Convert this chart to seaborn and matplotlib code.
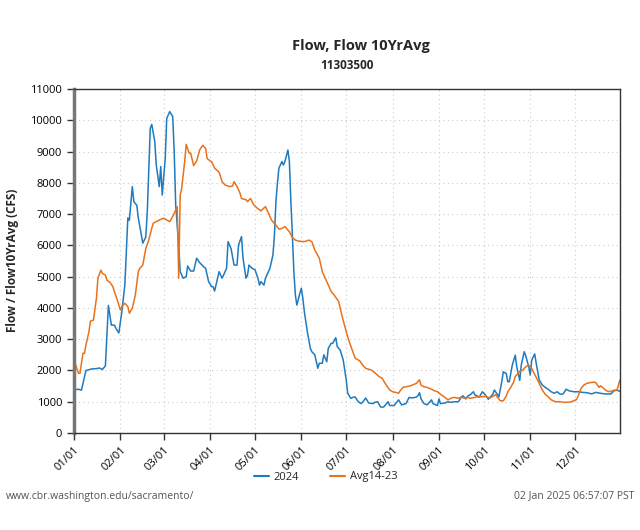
import pandas as pd
import numpy as np
import matplotlib
matplotlib.use("Agg")
import matplotlib.pyplot as plt
import matplotlib.dates as mdates
import seaborn as sns

# ---- data, day of year from 01/01/2024 ----
flow_days = [0, 3, 5, 8, 12, 15, 17, 19, 21, 23, 25, 27, 28, 30, 32, 34, 36, 37, 39, 40,
             42, 43, 46, 48, 49, 51, 52, 54, 55, 57, 58, 59, 61, 62, 64, 66, 67, 68, 70, 71,
             73, 75, 76, 78, 80, 82, 84, 87, 88, 90, 92, 93, 94, 96, 97, 99, 100, 102, 103, 105,
             107, 109, 110, 112, 113, 115, 116, 117, 119, 121, 123, 124, 125, 127, 128, 130, 131, 133, 134, 135,
             136, 137, 139, 140, 141, 143, 144, 145, 146, 147, 148, 149, 151, 152, 153, 154, 156, 158, 159, 161,
             163, 164, 166, 167, 169, 170, 172, 173, 175, 176, 178, 180, 182, 183, 185, 187, 188, 190, 192, 194,
             195, 197, 200, 201, 203, 205, 207, 210, 211, 214, 215, 217, 219, 222, 224, 226, 229, 230, 231, 232,
             234, 236, 238, 239, 240, 243, 244, 245, 248, 250, 252, 254, 257, 259, 260, 262, 263, 265, 267, 268,
             271, 273, 275, 277, 280, 281, 283, 284, 286, 287, 289, 290, 291, 293, 295, 296, 298, 299, 301, 302,
             304, 305, 306, 308, 309, 311, 313, 315, 317, 319, 321, 323, 325, 327, 329, 331, 334, 337, 340, 343,
             346, 349, 352, 355, 359, 361, 363, 365]
flow_cfs = [1380, 1400, 1370, 2000, 2050, 2060, 2080, 2030, 2150, 4080, 3450, 3450, 3350, 3200, 3880, 4730, 6880, 6800, 7880, 7400,
            7280, 6880, 6070, 6270, 7070, 9750, 9870, 9320, 8570, 7880, 8520, 7610, 8780, 10060, 10280, 10120, 9000, 7290, 6010, 5160,
            4950, 5000, 5340, 5180, 5180, 5590, 5450, 5300, 5270, 4840, 4680, 4680, 4540, 4950, 5160, 4950, 5050, 5270, 6120, 5900,
            5370, 5370, 6010, 6280, 5590, 4950, 5050, 5370, 5270, 5220, 4950, 4730, 4840, 4730, 4950, 5160, 5270, 5690, 6330, 7400,
            7990, 8470, 8680, 8570, 8680, 9050, 8680, 7400, 6330, 5160, 4410, 4090, 4470, 4630, 4310, 3880, 3240, 2710, 2600, 2500,
            2070, 2230, 2230, 2500, 2280, 2710, 2870, 2870, 3050, 2760, 2650, 2330, 1700, 1270, 1110, 1150, 1150, 1000, 940, 1050,
            1120, 960, 940, 980, 1000, 830, 830, 1000, 880, 880, 940, 1060, 900, 940, 1140, 1120, 1150, 1200, 1290, 1090,
            940, 900, 1000, 1060, 940, 880, 1090, 940, 960, 1000, 980, 1000, 1000, 1150, 1190, 1090, 1170, 1230, 1320, 1220,
            1150, 1320, 1220, 1080, 1240, 1375, 1240, 1150, 1640, 1960, 1900, 1640, 1640, 2170, 2490, 2120, 1680, 2170, 2600, 2470,
            2120, 1855, 2330, 2530, 2230, 1700, 1540, 1460, 1400, 1320, 1270, 1320, 1240, 1250, 1400, 1350, 1320, 1320, 1300, 1290,
            1250, 1300, 1270, 1250, 1250, 1350, 1370, 1330]

avg_days = [0, 1, 3, 4, 6, 7, 8, 10, 11, 13, 15, 16, 18, 19, 21, 22, 24, 26, 27, 29,
            31, 32, 34, 36, 37, 39, 41, 43, 44, 46, 47, 48, 50, 52, 53, 55, 57, 60, 62, 64,
            66, 68, 69, 70, 71, 72, 74, 75, 77, 78, 80, 82, 84, 86, 88, 89, 91, 92, 94, 97,
            99, 101, 104, 106, 107, 109, 111, 112, 115, 116, 118, 120, 122, 125, 126, 128, 130, 132, 135, 137,
            139, 141, 144, 146, 148, 150, 153, 155, 157, 159, 161, 164, 166, 169, 172, 174, 177, 179, 182, 184,
            186, 188, 191, 193, 195, 197, 199, 202, 204, 206, 208, 211, 213, 215, 217, 218, 220, 222, 224, 226,
            229, 230, 231, 232, 234, 236, 239, 241, 243, 245, 248, 250, 252, 254, 257, 259, 261, 263, 265, 268,
            271, 273, 275, 278, 280, 282, 283, 285, 287, 289, 290, 292, 294, 295, 297, 298, 300, 302, 304, 305,
            306, 307, 309, 311, 313, 315, 317, 319, 322, 325, 328, 332, 334, 336, 337, 339, 341, 343, 345, 348,
            349, 351, 352, 354, 356, 358, 361, 363, 364, 365]
avg_cfs = [2175, 2190, 1910, 1910, 2550, 2550, 2815, 3240, 3580, 3610, 4310, 4950, 5210, 5100, 5050, 4890, 4820, 4680, 4520, 4250,
           3935, 4040, 4150, 4040, 3830, 3990, 4410, 5160, 5270, 5370, 5640, 5900, 6170, 6550, 6710, 6760, 6810, 6870, 6810, 6760,
           6920, 7130, 7240, 4950, 7610, 7820, 8680, 9230, 8950, 8950, 8550, 8700, 9050, 9200, 9100, 8780, 8700, 8680, 8470, 8340,
           8040, 7930, 7880, 7900, 8040, 7880, 7670, 7500, 7460, 7400, 7500, 7310, 7210, 7100, 7150, 7240, 7030, 6810, 6650, 6520,
           6540, 6600, 6440, 6250, 6170, 6140, 6120, 6130, 6170, 6120, 5850, 5590, 5160, 4840, 4520, 4410, 4200, 3780, 3240, 2920,
           2650, 2390, 2310, 2170, 2070, 2040, 2010, 1890, 1800, 1750, 1590, 1380, 1320, 1300, 1270, 1350, 1460, 1480, 1500, 1530,
           1590, 1650, 1700, 1530, 1480, 1460, 1400, 1350, 1320, 1240, 1140, 1060, 1110, 1140, 1110, 1150, 1110, 1140, 1110, 1140,
           1160, 1160, 1170, 1120, 1170, 1230, 1150, 1030, 1030, 1180, 1320, 1460, 1640, 1810, 1910, 1960, 2010, 2120, 2170, 2120,
           2070, 1960, 1780, 1590, 1380, 1240, 1160, 1060, 1000, 1000, 980, 990, 1030, 1070, 1180, 1430, 1540, 1590, 1610, 1630,
           1600, 1460, 1510, 1430, 1350, 1320, 1370, 1370, 1540, 1700]

series_names = ["2024", "Avg14-23"]
series_colors = ["#1f7bbf", "#e8721c"]

start = pd.Timestamp("2024-01-01")
df = pd.concat([
    pd.DataFrame({"date": start + pd.to_timedelta(flow_days, unit="D"),
                  "cfs": flow_cfs, "series": series_names[0]}),
    pd.DataFrame({"date": start + pd.to_timedelta(avg_days, unit="D"),
                  "cfs": avg_cfs, "series": series_names[1]}),
], ignore_index=True)

sns.set_style("white")
plt.rcParams["font.family"] = ["Open Sans", "DejaVu Sans"]

fig = plt.figure(figsize=(6.4, 5.3), dpi=100)
ax = fig.add_axes([0.1156, 0.183, 0.8531, 0.649])

sns.lineplot(data=df, x="date", y="cfs", hue="series",
             palette=dict(zip(series_names, series_colors)),
             linewidth=1.1, ax=ax, legend=False)

# axes
ax.set_xlim(pd.Timestamp("2024-01-01"), pd.Timestamp("2024-12-31"))
ax.set_ylim(0, 11000)
ax.set_yticks(np.arange(0, 11001, 1000))
ax.xaxis.set_major_locator(mdates.MonthLocator())
ax.xaxis.set_major_formatter(mdates.DateFormatter("%m/%d"))
ax.set_xlabel("")
ax.set_ylabel("")
ax.tick_params(axis="both", direction="out", length=5, width=1, color="#333333",
               labelsize=8, labelcolor="black", bottom=True, left=True)
plt.setp(ax.get_xticklabels(), rotation=45, ha="right", rotation_mode="anchor")
ax.grid(True, linestyle=(0, (1, 3)), color="#cccccc", linewidth=0.8)

for side in ["top", "right", "bottom"]:
    ax.spines[side].set_color("#333333")
    ax.spines[side].set_linewidth(1.0)
ax.spines["left"].set_color("#777777")
ax.spines["left"].set_linewidth(2.5)

# titles and labels
fig.text(0.564, 0.913, "Flow, Flow 10YrAvg", ha="center", va="center",
         fontsize=10.5, fontweight="bold")
fig.text(0.542, 0.877, "11303500", ha="center", va="center",
         fontsize=8.5, fontweight="bold")
fig.text(0.019, 0.508, "Flow / Flow10YrAvg (CFS)", ha="center", va="center",
         rotation=90, fontsize=8.5, fontweight="bold")

# legend
handles = [plt.Line2D([], [], color=c, linewidth=1.5) for c in series_colors]
fig.legend(handles, series_names, loc="center", bbox_to_anchor=(0.509, 0.1),
           ncol=2, frameon=False, fontsize=8, handlelength=1.3,
           columnspacing=2.8, handletextpad=0.45)

# footer
fig.text(0.009, 0.064, "www.cbr.washington.edu/sacramento/", ha="left", va="center",
         fontsize=7.5, color="#555555")
fig.text(0.991, 0.064, "02 Jan 2025 06:57:07 PST", ha="right", va="center",
         fontsize=7.5, color="#555555")

fig.savefig("out.png", dpi=100)
plt.close(fig)
